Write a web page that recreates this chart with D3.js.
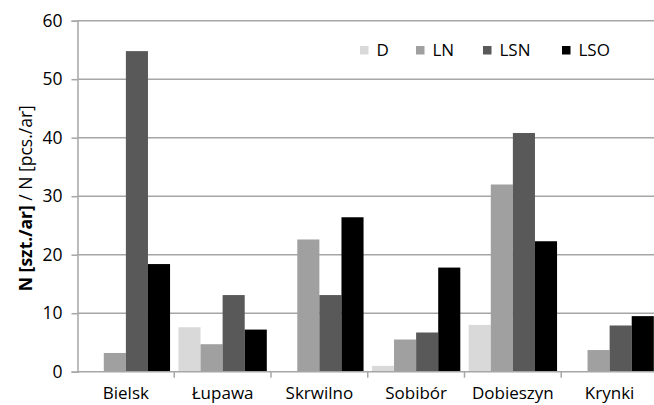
<!DOCTYPE html>
<html lang="en">
<head>
<meta charset="UTF-8">
<title>N per ar</title>
<script src="https://d3js.org/d3.v7.min.js"></script>
<style>
  body { margin: 0; background: #fff; }
  svg { display: block; font-family: "Open Sans", "Liberation Sans", sans-serif; }
</style>
</head>
<body>
<div id="chart"></div>
<script>
// categories and series values
const sites = ["Bielsk", "Łupawa", "Skrwilno", "Sobibór", "Dobieszyn", "Krynki"];
const seriesNames = ["D", "LN", "LSN", "LSO"];
const valuesD   = [0,    7.6,  0,    1.0,  8.0,  0];
const valuesLN  = [3.2,  4.7,  22.6, 5.5,  32.0, 3.7];
const valuesLSN = [54.8, 13.1, 13.1, 6.7,  40.8, 7.9];
const valuesLSO = [18.4, 7.2,  26.4, 17.8, 22.3, 9.5];
const yTicks = [0, 10, 20, 30, 40, 50, 60];

const colors = ["#d9d9d9", "#a0a0a0", "#595959", "#000000"];
const allValues = [valuesD, valuesLN, valuesLSN, valuesLSO];

const W = 654, H = 405;
const plotLeft = 77.5, plotRight = 658, plotTop = 20.7, plotBottom = 371.7;

const svg = d3.select("#chart").append("svg")
    .attr("width", W).attr("height", H);

const x = d3.scaleBand().domain(sites).range([plotLeft, plotRight]).paddingInner(0).paddingOuter(0);
const inner = d3.scaleBand().domain(seriesNames)
    .range([0, x.bandwidth()]).paddingOuter(0.19).paddingInner(0);
const y = d3.scaleLinear().domain([0, 60]).range([plotBottom, plotTop]);

// gridlines
svg.append("g").selectAll("line")
    .data(yTicks.filter(d => d > 0))
    .join("line")
    .attr("x1", plotLeft).attr("x2", plotRight)
    .attr("y1", d => y(d)).attr("y2", d => y(d))
    .attr("stroke", "#a6a6a6").attr("stroke-width", 1.5);

// y axis
const yAxis = svg.append("g")
    .attr("transform", `translate(${plotLeft},0)`)
    .call(d3.axisLeft(y).tickValues(yTicks).tickSize(6).tickPadding(9));
yAxis.select(".domain").attr("stroke", "#a6a6a6").attr("stroke-width", 1.5);
yAxis.selectAll(".tick line").attr("stroke", "#a6a6a6").attr("stroke-width", 1.5);
yAxis.selectAll("text").attr("font-size", 17.5).attr("fill", "#000")
    .attr("font-family", "'Open Sans', sans-serif");

// bars
const groups = svg.append("g").selectAll("g")
    .data(sites)
    .join("g")
    .attr("transform", d => `translate(${x(d)},0)`);

groups.selectAll("rect")
    .data((s, i) => seriesNames.map((n, k) => ({ name: n, value: allValues[k][i], k })))
    .join("rect")
    .attr("x", d => inner(d.name))
    .attr("width", inner.bandwidth())
    .attr("y", d => y(d.value))
    .attr("height", d => plotBottom - y(d.value))
    .attr("fill", d => colors[d.k]);

// x axis
const xAxis = svg.append("g")
    .attr("transform", `translate(0,${plotBottom})`)
    .call(d3.axisBottom(x).tickSize(0).tickPadding(15));
xAxis.select(".domain").remove();
xAxis.selectAll("text").attr("font-size", 17).attr("fill", "#000")
    .attr("font-family", "'Open Sans', sans-serif");

svg.append("line")
    .attr("x1", plotLeft).attr("x2", plotRight)
    .attr("y1", plotBottom).attr("y2", plotBottom)
    .attr("stroke", "#a6a6a6").attr("stroke-width", 1.5);

// category separators on the x axis
svg.append("g").selectAll("line")
    .data(sites.slice(1))
    .join("line")
    .attr("x1", d => x(d)).attr("x2", d => x(d))
    .attr("y1", plotBottom).attr("y2", plotBottom + 6)
    .attr("stroke", "#a6a6a6").attr("stroke-width", 1.5);

// y axis title
const title = svg.append("text")
    .attr("transform", `translate(32,${(plotTop + plotBottom) / 2 + 2}) rotate(-90)`)
    .attr("text-anchor", "middle")
    .attr("font-size", 17.5);
title.append("tspan").attr("font-weight", "bold").text("N [szt./ar]");
title.append("tspan").text(" / N [pcs./ar]");

// legend
const legendX = [360, 416, 483, 562];
const legend = svg.append("g").selectAll("g")
    .data(seriesNames)
    .join("g")
    .attr("transform", (d, i) => `translate(${legendX[i]},46)`);
legend.append("rect")
    .attr("width", 8.5).attr("height", 8.5)
    .attr("fill", (d, i) => colors[i]);
legend.append("text")
    .attr("x", 16.5).attr("y", 4)
    .attr("dy", "0.35em")
    .attr("font-size", 17)
    .text(d => d);
</script>
</body>
</html>
